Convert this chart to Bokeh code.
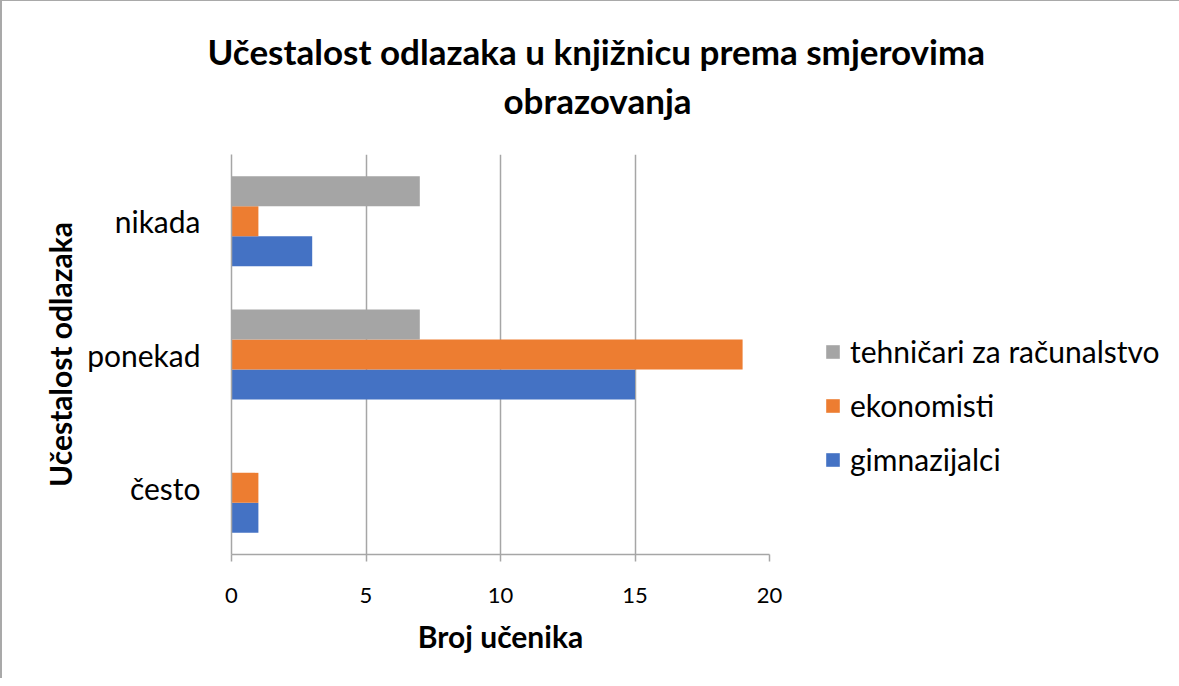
from bokeh.plotting import figure
from bokeh.models import (FactorRange, FixedTicker, Legend, LegendItem, Title,
                          ColumnDataSource)
from bokeh.transform import dodge
from bokeh.embed import file_html
from bokeh.resources import INLINE

# ---- data ----
categories = ["često", "ponekad", "nikada"]          # bottom -> top
series_names = ["gimnazijalci", "ekonomisti", "tehničari za računalstvo"]
gimnazijalci = [1, 15, 3]
ekonomisti = [1, 19, 1]
tehnicari = [0, 7, 7]
series_colors = ["#4472C4", "#ED7D31", "#A5A5A5"]
x_ticks = [0, 5, 10, 15, 20]
title_line1 = "Učestalost odlazaka u knjižnicu prema smjerovima"
title_line2 = "obrazovanja"
x_label = "Broj učenika"
y_label = "Učestalost odlazaka"

FONT = "Lato"
GRID = "#a6a6a6"

source = ColumnDataSource(dict(cat=categories, gim=gimnazijalci,
                               eko=ekonomisti, teh=tehnicari))

p = figure(frame_width=538, frame_height=400, y_range=FactorRange(*categories),
           x_range=(0, 20), output_backend="svg", toolbar_location=None,
           title=None, min_border_left=229, min_border_right=400,
           min_border_top=153, min_border_bottom=124)
p.styles = {"border-top": "1px solid #a9a9a9", "border-left": "2px solid #a9a9a9"}

bar_h = 0.225
cols = ["gim", "eko", "teh"]
offsets = [-bar_h, 0.0, bar_h]
renderers = []
for col, off, color in zip(cols, offsets, series_colors):
    r = p.hbar(y=dodge("cat", off, range=p.y_range), left=0, right=col,
               height=bar_h, source=source, fill_color=color,
               line_color=None)
    renderers.append(r)

# two-line chart title (panels stack outward from the frame)
spacer = Title(text=" ", text_font_size="1px", standoff=31)
t2 = Title(text=title_line2, align="left", offset=272, text_font=FONT,
           text_font_size="35px", text_font_style="bold", text_color="#000000",
           standoff=0)
t1 = Title(text=title_line1, align="left", offset=-24, text_font=FONT,
           text_font_size="35px", text_font_style="bold", text_color="#000000",
           standoff=10)
p.add_layout(spacer, "above")
p.add_layout(t2, "above")
p.add_layout(t1, "above")

# x axis
xa = p.xaxis[0]
xa.ticker = FixedTicker(ticks=x_ticks)
xa.axis_line_color = GRID
xa.axis_line_width = 1.5
xa.major_tick_line_color = GRID
xa.major_tick_line_width = 1.5
xa.major_tick_out = 7
xa.major_tick_in = 0
xa.minor_tick_line_color = None
xa.major_label_text_font = FONT
xa.major_label_text_font_size = "22px"
xa.major_label_text_color = "#000000"
xa.major_label_standoff = 26
xa.axis_label = x_label
xa.axis_label_text_font = FONT
xa.axis_label_text_font_size = "30px"
xa.axis_label_text_font_style = "bold"
xa.axis_label_text_color = "#000000"
xa.axis_label_standoff = 12

# y axis
ya = p.yaxis[0]
ya.axis_line_color = GRID
ya.axis_line_width = 1.5
ya.major_tick_line_color = None
ya.minor_tick_line_color = None
ya.major_label_text_font = FONT
ya.major_label_text_font_size = "30px"
ya.major_label_text_color = "#000000"
ya.major_label_standoff = 25
ya.axis_label = y_label
ya.axis_label_text_font = FONT
ya.axis_label_text_font_size = "30px"
ya.axis_label_text_font_style = "bold"
ya.axis_label_text_color = "#000000"
ya.axis_label_standoff = 6

p.xgrid.ticker = FixedTicker(ticks=x_ticks)
p.xgrid.grid_line_color = GRID
p.xgrid.grid_line_width = 1.5
p.ygrid.visible = False
p.outline_line_color = None

legend = Legend(items=[LegendItem(label=series_names[i], renderers=[renderers[i]])
                       for i in (2, 1, 0)],
                location=(55, 77))
legend.label_text_font = FONT
legend.label_text_font_size = "30px"
legend.label_text_color = "#000000"
legend.glyph_width = 17
legend.glyph_height = 17
legend.label_standoff = 9
legend.spacing = 18
legend.padding = 0
legend.margin = 0
legend.border_line_color = None
legend.background_fill_alpha = 0
p.add_layout(legend, "right")

open("out.html", "w").write(file_html(p, INLINE))
